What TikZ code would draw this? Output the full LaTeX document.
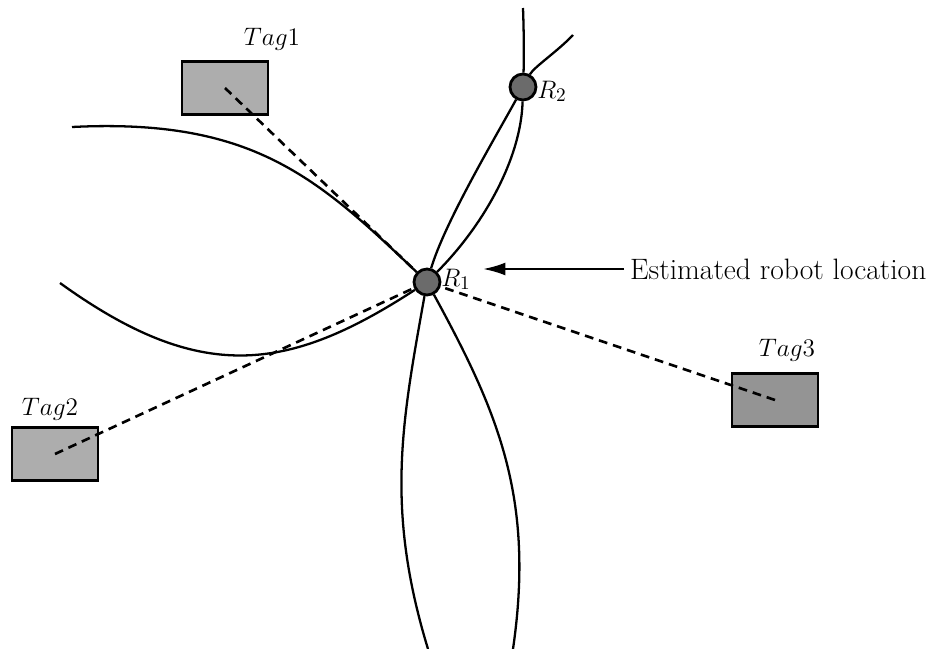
\documentclass[tikz,border=0pt]{standalone}
\usetikzlibrary{arrows.meta}

\begin{document}
\begin{tikzpicture}[x=0.02cm,y=-0.02cm,
    every node/.style={font=\fontsize{15}{18}\selectfont},
    tagbox/.style={draw,line width=1.2pt,fill=black!32,minimum width=1.72cm,minimum height=1.06cm,inner sep=0pt},
    robot/.style={circle,draw,line width=1.6pt,fill=black!58,minimum size=0.52cm,inner sep=0pt},
    rangearc/.style={line width=1.3pt},
    link/.style={line width=1.5pt,dash pattern=on 5pt off 3.4pt}]

    \useasboundingbox (0,0) rectangle (938,649);

    \node[tagbox] (tag1) at (225,88) {};
    \node[tagbox] (tag2) at (55,454) {};
    \node[tagbox,fill=black!42] (tag3) at (775,400) {};
    \node[anchor=base] (ltag1) at (272,46) {$Tag1$};
    \node[anchor=base] (ltag2) at (50,415) {$Tag2$};
    \node[anchor=base] (ltag3) at (787,356) {$Tag3$};

    \node[robot] (r1) at (427,282) {};
    \node[robot] (r2) at (523,87) {};
    \node[anchor=base west,inner sep=0pt] (lr1) at (441,286) {$R_1$};
    \node[anchor=base west,inner sep=0pt] (lr2) at (537,98) {$R_2$};

    \node[anchor=west,font=\fontsize{16.8}{20}\selectfont] (est) at (624,269) {Estimated robot location};
    \coordinate (aim) at (483,269);

    \coordinate (w1) at (72,127);
    \coordinate (w2) at (60,283);
    \coordinate (n1) at (573,35);
    \coordinate (n2) at (523,8);
    \coordinate (s1) at (428,649);
    \coordinate (s2) at (513,649);

    \draw[rangearc] (w1) .. controls (252,118) and (317,177) .. (r1);
    \draw[rangearc] (w2) .. controls (200,384) and (287,373) .. (r1);
    \draw[rangearc] (r1) .. controls (445,222) and (495,138) .. (r2);
    \draw[rangearc] (r2) .. controls (534,67) and (558,51) .. (n1);
    \draw[rangearc] (r1) .. controls (482,227) and (521,160) .. (r2);
    \draw[rangearc] (r2) .. controls (524,60) and (524,35) .. (n2);
    \draw[rangearc] (r1) .. controls (402,422) and (385,508) .. (s1);
    \draw[rangearc] (r1) .. controls (498,412) and (535,498) .. (s2);

    \draw[link] (tag1.center) -- (r1);
    \draw[link] (tag2.center) -- (r1);
    \draw[link] (tag3.center) -- (r1);

    \draw[line width=1.3pt,-{Latex[length=4.5mm,width=2.6mm]}] (est) -- (aim);

\end{tikzpicture}
\end{document}
